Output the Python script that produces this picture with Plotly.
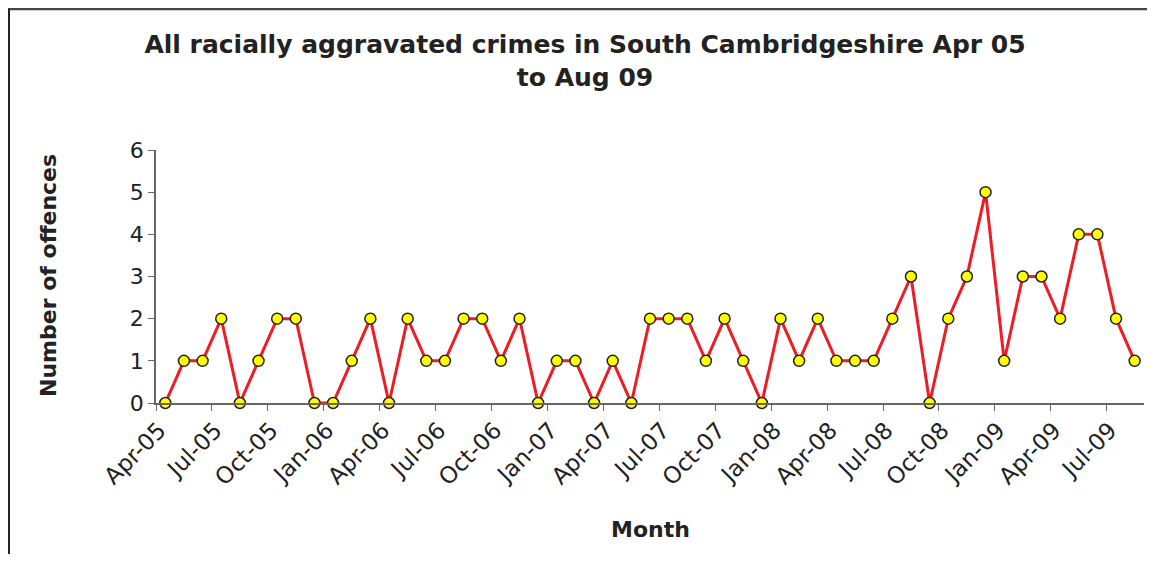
import plotly.graph_objects as go

months = ["Apr-05", "May-05", "Jun-05", "Jul-05", "Aug-05", "Sep-05", "Oct-05", "Nov-05", "Dec-05",
          "Jan-06", "Feb-06", "Mar-06", "Apr-06", "May-06", "Jun-06", "Jul-06", "Aug-06", "Sep-06",
          "Oct-06", "Nov-06", "Dec-06", "Jan-07", "Feb-07", "Mar-07", "Apr-07", "May-07", "Jun-07",
          "Jul-07", "Aug-07", "Sep-07", "Oct-07", "Nov-07", "Dec-07", "Jan-08", "Feb-08", "Mar-08",
          "Apr-08", "May-08", "Jun-08", "Jul-08", "Aug-08", "Sep-08", "Oct-08", "Nov-08", "Dec-08",
          "Jan-09", "Feb-09", "Mar-09", "Apr-09", "May-09", "Jun-09", "Jul-09", "Aug-09"]
offences = [0, 1, 1, 2, 0, 1, 2, 2, 0,
            0, 1, 2, 0, 2, 1, 1, 2, 2,
            1, 2, 0, 1, 1, 0, 1, 0, 2,
            2, 2, 1, 2, 1, 0, 2, 1, 2,
            1, 1, 1, 2, 3, 0, 2, 3, 5,
            1, 3, 3, 2, 4, 4, 2, 1]
y_ticks = [0, 1, 2, 3, 4, 5, 6]

title_text = "All racially aggravated crimes in South Cambridgeshire Apr 05<br>to Aug 09"
y_title = "Number of offences"
x_title = "Month"

# page body has an 8px margin, so the figure is offset by (8, 8)
OFF = 8
W, H = 1155 - 2 * OFF, 562 - 2 * OFF
L, T = 156 - OFF, 150 - OFF
R = W - (1144 - OFF)
B = H - (403 - OFF)
pw, ph = W - L - R, H - T - B


def px(x):
    return (x - OFF - L) / pw


def py(y):
    return (H - B - (y - OFF)) / ph


FONT = "DejaVu Sans"

fig = go.Figure()
fig.add_trace(go.Scatter(
    x=months, y=offences, mode="lines+markers",
    line=dict(color="#EE1C25", width=3),
    marker=dict(size=11, color="#FFFF00", line=dict(color="#222222", width=1.5)),
    showlegend=False, cliponaxis=False,
))

fig.update_layout(
    width=W, height=H,
    margin=dict(l=L, r=R, t=T, b=B),
    paper_bgcolor="white", plot_bgcolor="white",
    title=dict(text=title_text, x=px(585), xref="paper", xanchor="center",
               y=1 - (53 - OFF) / H, yref="container", yanchor="middle",
               font=dict(family=FONT, size=25, color="#222222", weight="bold")),
    font=dict(family=FONT, color="#222222"),
    xaxis=dict(type="category", tickson="boundaries", dtick=3, tickangle=-45,
               ticks="outside", ticklen=6, tickcolor="#666666", tickwidth=1.2,
               showline=True, linecolor="#666666", linewidth=1.5,
               showgrid=False, zeroline=False,
               ticklabelshift=-6, ticklabelstandoff=3,
               tickfont=dict(family=FONT, size=23, color="#222222"),
               range=[-0.5, len(months) - 0.5]),
    yaxis=dict(range=[0, 6], tickvals=y_ticks, ticks="outside", ticklen=6,
               tickcolor="#666666", tickwidth=1.2,
               showline=True, linecolor="#666666", linewidth=1.5,
               showgrid=False, zeroline=False,
               tickfont=dict(family=FONT, size=22, color="#222222")),
    annotations=[
        dict(text=y_title, x=px(48), y=py(276), xref="paper", yref="paper",
             textangle=-90, showarrow=False, xanchor="center", yanchor="middle",
             font=dict(family=FONT, size=22, color="#222222", weight="bold")),
        dict(text=x_title, x=px(650), y=py(529), xref="paper", yref="paper",
             showarrow=False, xanchor="center", yanchor="middle",
             font=dict(family=FONT, size=22, color="#222222", weight="bold")),
    ],
    shapes=[
        dict(type="line", xref="paper", yref="paper", x0=px(8), x1=px(1150), y0=py(9), y1=py(9),
             line=dict(color="#444444", width=2.5)),
        dict(type="line", xref="paper", yref="paper", x0=px(9), x1=px(9), y0=py(9), y1=py(560),
             line=dict(color="#222222", width=2)),
    ],
)

fig.write_html("out.html", config={"displayModeBar": False})
